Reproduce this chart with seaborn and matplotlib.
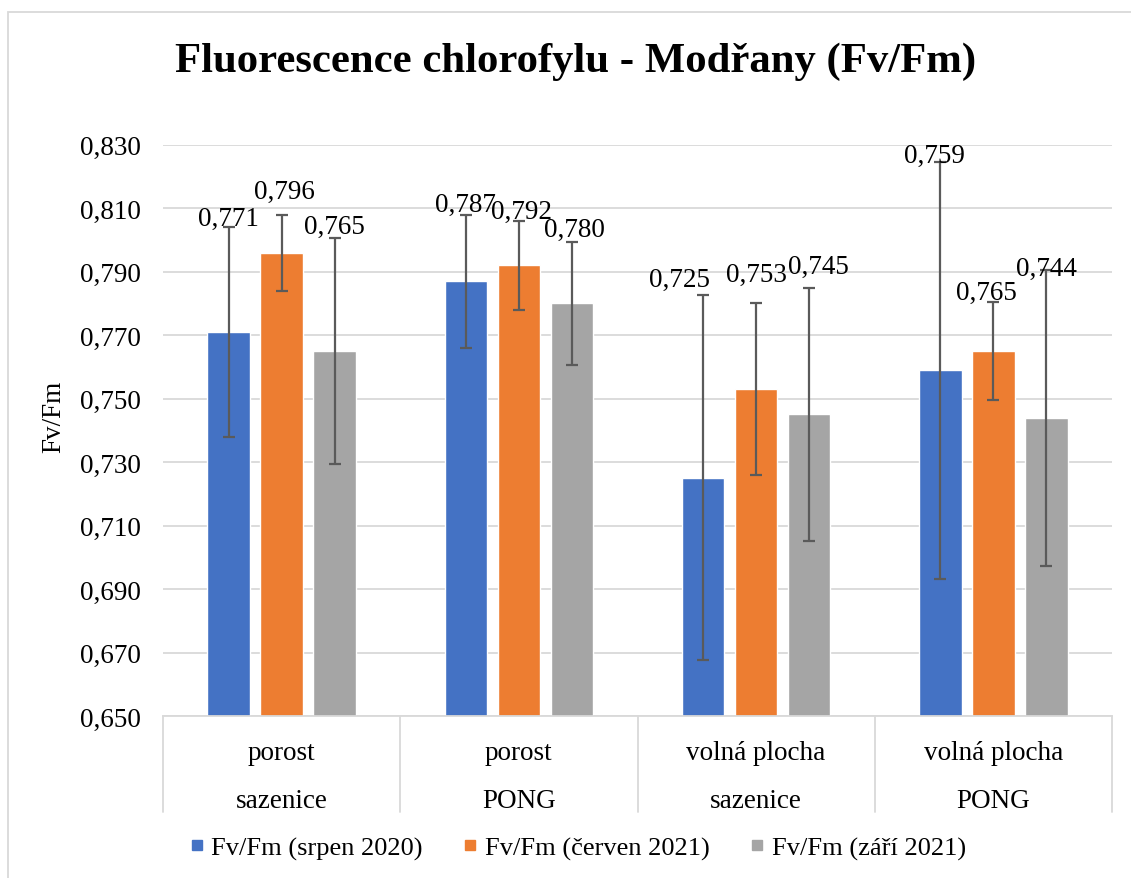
import numpy as np
import pandas as pd
import matplotlib
matplotlib.use("Agg")
import matplotlib.pyplot as plt
from matplotlib.lines import Line2D
from matplotlib.patches import Rectangle
import seaborn as sns

# ---- data ----
categories = ["porost\nsazenice", "porost\nPONG", "volná plocha\nsazenice", "volná plocha\nPONG"]
series = ["Fv/Fm (srpen 2020)", "Fv/Fm (červen 2021)", "Fv/Fm (září 2021)"]
srpen_2020 = [0.771, 0.787, 0.725, 0.759]
cerven_2021 = [0.796, 0.792, 0.753, 0.765]
zari_2021 = [0.765, 0.780, 0.745, 0.744]
err_srpen_2020 = [0.033, 0.021, 0.0575, 0.0657]
err_cerven_2021 = [0.012, 0.014, 0.027, 0.0155]
err_zari_2021 = [0.0356, 0.0195, 0.040, 0.0466]
yticks = [0.650, 0.670, 0.690, 0.710, 0.730, 0.750, 0.770, 0.790, 0.810, 0.830]

values = [srpen_2020, cerven_2021, zari_2021]
errors = [err_srpen_2020, err_cerven_2021, err_zari_2021]
colors = ["#4472C4", "#ED7D31", "#A5A5A5"]

# label offsets (points) relative to top of error bar: (dx, dy)
label_offsets = [
    [(0, 6.5), (0, 7), (-17, 11.5), (-4.5, 4.5)],
    [(2, 16.5), (2, 7), (0, 21), (-5, 7)],
    [(0, 8.5), (1.5, 8.5), (7, 15), (0, 1)],
]

df = pd.DataFrame({
    "kategorie": np.repeat([categories], len(series), axis=0).ravel(),
    "serie": np.repeat(series, len(categories)),
    "hodnota": np.concatenate(values),
})

sns.set_theme(style="white")
plt.rcParams["font.family"] = ["Liberation Serif", "DejaVu Serif"]
plt.rcParams["text.color"] = "black"
plt.rcParams["axes.labelcolor"] = "black"
plt.rcParams["xtick.color"] = "black"
plt.rcParams["ytick.color"] = "black"

FS = 19.5

fig = plt.figure(figsize=(11.31, 8.79), dpi=100)
ax = fig.add_axes([163 / 1131, 1 - 717 / 879, (1112 - 163) / 1131, (717 - 145.7) / 879])

sns.barplot(data=df, x="kategorie", y="hodnota", hue="serie", hue_order=series,
            order=categories, palette=colors, width=0.671, gap=0.2, errorbar=None,
            saturation=1, legend=False, ax=ax, zorder=2)

bar_containers = list(ax.containers)
for ci, cont in enumerate(bar_containers):
    xs = [p.get_x() + p.get_width() / 2 for p in cont.patches]
    ax.errorbar(xs, values[ci], yerr=errors[ci], fmt="none", ecolor="#5A5A5A",
                elinewidth=1.6, capsize=4.3, capthick=1.6, zorder=3)
    for j, x in enumerate(xs):
        top = values[ci][j] + errors[ci][j]
        ax.annotate(f"{values[ci][j]:.3f}".replace(".", ","), (x, top),
                    xytext=label_offsets[ci][j], textcoords="offset points",
                    ha="center", va="center", fontsize=FS, color="black", zorder=4)

ax.set_ylim(0.650, 0.830)
ax.set_yticks(yticks)
ax.set_yticklabels([f"{t:.3f}".replace(".", ",") for t in yticks], fontsize=FS)
ax.yaxis.grid(True, color="#D9D9D9", linewidth=1.3, zorder=0)
ax.set_axisbelow(True)
ax.tick_params(axis="y", length=0, pad=16, labelcolor="black")
ax.tick_params(axis="x", length=0, pad=17, labelcolor="black")
ax.set_xticks(range(len(categories)))
ax.set_xticklabels(categories, fontsize=FS, linespacing=2.25)
ax.set_xlim(-0.5, len(categories) - 0.5)
ax.set_xlabel("")
ax.set_ylabel("Fv/Fm", fontsize=FS, color="black")
ax.yaxis.set_label_coords(-0.102, 0.525)

for s in ["left", "right", "top"]:
    ax.spines[s].set_visible(False)
ax.spines["bottom"].set_color("#D9D9D9")
ax.spines["bottom"].set_linewidth(1.3)

# category separators
trans = ax.get_xaxis_transform()
depth = (813 - 717) / (717 - 145.7)
for b in np.arange(-0.5, len(categories), 1.0):
    ax.plot([b, b], [0, -depth], transform=trans, color="#D9D9D9", lw=1.3,
            clip_on=False, zorder=1)

# title
fig.text(0.509, 1 - 62 / 879, "Fluorescence chlorofylu - Modřany (Fv/Fm)",
         ha="center", va="center", fontsize=30.8, fontweight="bold", color="black")

# legend
handles = [Line2D([], [], marker="s", linestyle="none", markersize=7,
                  markerfacecolor=c, markeredgecolor=c) for c in colors]
leg = fig.legend(handles, series, loc="center", bbox_to_anchor=(0.511, 1 - 849 / 879),
                 ncol=3, frameon=False, fontsize=19, handlelength=0.5,
                 handletextpad=0.3, columnspacing=1.55)
for t in leg.get_texts():
    t.set_color("black")

# chart frame
fig.patches.append(Rectangle((8 / 1131, -0.05), 1.2, 1 - 13 / 879 + 0.05,
                             transform=fig.transFigure, fill=False,
                             edgecolor="#D9D9D9", linewidth=1.3))

fig.savefig("out.png", dpi=100)
